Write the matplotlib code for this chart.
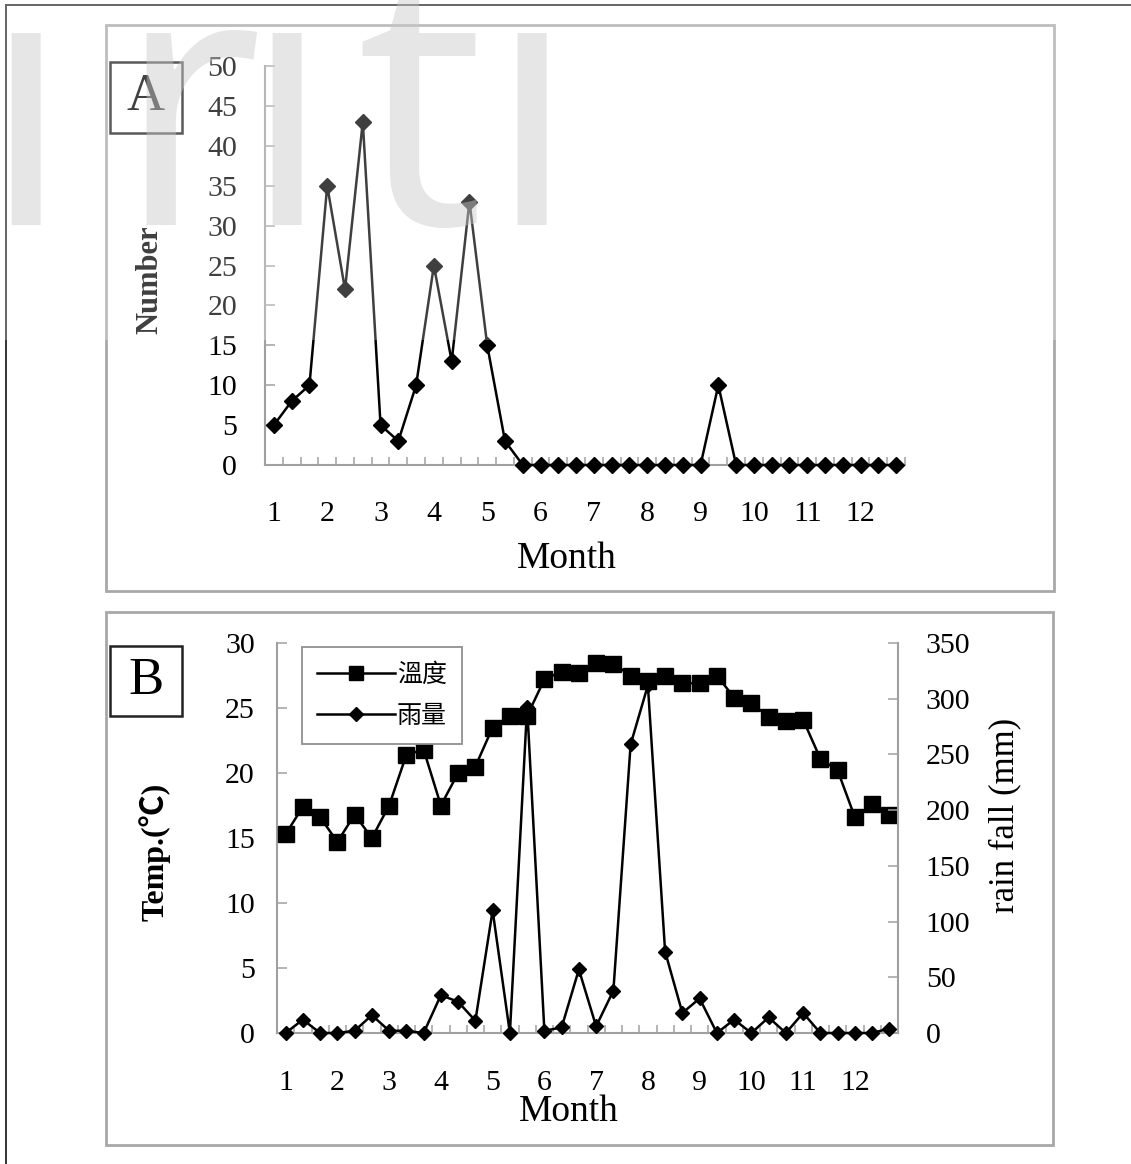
import numpy as np
import matplotlib
matplotlib.use('Agg')
import matplotlib.pyplot as plt
from matplotlib.patches import Rectangle
from matplotlib.lines import Line2D

plt.rcParams['font.family'] = ['Liberation Serif', 'Noto Sans CJK TC', 'DejaVu Sans']

# ---------------- data ----------------
month_labels = [str(m) for m in range(1, 13)]
count_A = [5, 8, 10, 35, 22, 43, 5, 3, 10, 25, 13, 33,
           15, 3, 0, 0, 0, 0, 0, 0, 0, 0, 0, 0,
           0, 10, 0, 0, 0, 0, 0, 0, 0, 0, 0, 0]
temp_B = [15.3, 17.4, 16.6, 14.7, 16.8, 15.0, 17.5, 21.4, 21.8, 17.5, 20.0, 20.5,
          23.5, 24.4, 24.4, 27.2, 27.8, 27.7, 28.5, 28.4, 27.5, 27.1, 27.5, 26.9,
          26.9, 27.5, 25.8, 25.4, 24.3, 24.0, 24.1, 21.1, 20.2, 16.6, 17.6, 16.8]
rain_B = [0, 12, 0, 0, 2, 16, 2, 2, 0, 34, 28, 11,
          110, 0, 293, 2, 5, 57, 6, 38, 259, 312, 73, 18,
          31, 0, 12, 0, 14, 0, 18, 0, 0, 0, 0, 4]
legend_labels = ['溫度', '雨量']

W, H = 1131, 1164
fig = plt.figure(figsize=(W / 100, H / 100), dpi=100)
fig.patch.set_facecolor('white')

def fx(px):
    return px / W

def fy(py):
    return 1 - py / H

SPINE = '#a0a0a0'
TICKFS = 21.5
n = len(count_A)
x = np.arange(n)
per_month = n // len(month_labels)

def style_x(ax, pad):
    ax.set_xlim(-0.5, n - 0.5)
    ax.set_xticks(x[::per_month])
    ax.set_xticklabels(month_labels)
    ax.set_xticks(np.arange(-0.5, n, 1), minor=True)
    ax.tick_params(axis='x', which='major', length=0, labelsize=TICKFS, pad=pad)
    ax.tick_params(axis='x', which='minor', direction='in', length=6,
                   color=SPINE, width=1.1)
    for s in ['top', 'right']:
        ax.spines[s].set_visible(False)
    for s in ['left', 'bottom']:
        ax.spines[s].set_color(SPINE)
        ax.spines[s].set_linewidth(1.5)

# ---------------- panel A ----------------
axA = fig.add_axes([fx(265), fy(465), fx(905) - fx(265), fy(66) - fy(465)])
axA.plot(x, count_A, color='black', lw=1.8, marker='D', ms=8.2,
         clip_on=False, zorder=3)
axA.set_ylim(0, 50)
axA.set_yticks(np.arange(0, 51, 5))
axA.tick_params(axis='y', direction='in', length=7, color=SPINE, width=1.1,
                labelsize=TICKFS, pad=20)
style_x(axA, 26)
axA.set_xlabel('Month', fontsize=27, va='center')
axA.xaxis.set_label_coords((567 - 265) / 640, (465 - 559) / 399)
axA.set_ylabel('Number', fontsize=22, fontweight='bold', va='center')
axA.yaxis.set_label_coords((150 - 265) / 640, (465 - 280) / 399)

# ---------------- panel B ----------------
axB = fig.add_axes([fx(277), fy(1033), fx(898) - fx(277), fy(643) - fy(1033)])
axB2 = axB.twinx()
lt, = axB.plot(x, temp_B, color='black', lw=1.8, marker='s', ms=11,
               clip_on=False, zorder=3)
lr, = axB2.plot(x, rain_B, color='black', lw=1.8, marker='D', ms=7.5,
                clip_on=False, zorder=3)
axB.set_ylim(0, 30)
axB.set_yticks(np.arange(0, 31, 5))
axB2.set_ylim(0, 350)
axB2.set_yticks(np.arange(0, 351, 50))
axB.tick_params(axis='y', direction='in', length=7, color=SPINE, width=1.1,
                labelsize=TICKFS, pad=16)
axB2.tick_params(axis='y', direction='in', length=7, color=SPINE, width=1.1,
                 labelsize=TICKFS, pad=20)
style_x(axB, 27)
axB2.spines['top'].set_visible(False)
axB2.spines['right'].set_color(SPINE)
axB2.spines['right'].set_linewidth(1.5)
axB2.spines['left'].set_visible(False)
axB2.spines['bottom'].set_visible(False)
axB.set_xlabel('Month', fontsize=27, va='center')
axB.xaxis.set_label_coords((569 - 277) / 621, (1033 - 1112) / 390)
axB.set_ylabel('Temp.(℃)', fontsize=23, fontweight='bold', va='center')
axB.yaxis.set_label_coords((155 - 277) / 621, (1033 - 852) / 390)
axB2.set_ylabel('rain fall (mm)', fontsize=25, va='center', rotation=90)
axB2.yaxis.set_label_coords((1005 - 277) / 621, (1033 - 815) / 390)

h_t = Line2D([], [], color='black', lw=1.8, marker='s', ms=9.5)
h_r = Line2D([], [], color='black', lw=1.8, marker='D', ms=7.5)
leg = axB2.legend([h_t, h_r], legend_labels, loc='upper left',
                  bbox_to_anchor=((302 - 277) / 621, (1033 - 647) / 390),
                  borderaxespad=0, frameon=True, fancybox=False,
                  edgecolor='#909090', framealpha=1,
                  prop={'family': ['Noto Sans CJK TC'], 'size': 18},
                  handlelength=3.1, handletextpad=0.1, borderpad=0.6,
                  labelspacing=0.6)
leg.get_frame().set_linewidth(1.3)

# ---------------- panel frames and letters ----------------
for (x0, y0, x1, y1) in [(106, 25, 1054, 591), (106, 612, 1053, 1145)]:
    fig.add_artist(Rectangle((fx(x0), fy(y1)), fx(x1) - fx(x0), fy(y0) - fy(y1),
                             transform=fig.transFigure, fill=False,
                             edgecolor='#a8a8a8', lw=2, zorder=-1))
for (x0, y0, x1, y1, lab) in [(110, 62, 182, 133, 'A'), (110, 646, 182, 716, 'B')]:
    fig.add_artist(Rectangle((fx(x0), fy(y1)), fx(x1) - fx(x0), fy(y0) - fy(y1),
                             transform=fig.transFigure, fill=False,
                             edgecolor='#222222', lw=1.8, zorder=4))
    fig.text(fx((x0 + x1) / 2), fy((y0 + y1) / 2), lab, fontsize=38,
             ha='center', va='center', zorder=4)

# page frame lines
fig.add_artist(Line2D([fx(6), 1], [fy(5), fy(5)], transform=fig.transFigure,
                      color='#333333', lw=1.4, zorder=4))
fig.add_artist(Line2D([fx(6), fx(6)], [fy(5), 0], transform=fig.transFigure,
                      color='#333333', lw=1.4, zorder=4))

# ---------------- watermark ----------------
fig.add_artist(Rectangle((0, fy(340)), 1, 340 / H, transform=fig.transFigure,
                         facecolor='white', alpha=0.25, edgecolor='none', zorder=8))
wm = dict(family=['Open Sans'], fontsize=258, color='#c8c8c8', alpha=0.45,
          va='baseline', zorder=9)
fig.text(fx(26), fy(225), 'i', ha='center', **wm)
fig.text(fx(115), fy(225), 'r', ha='left', **wm)
fig.text(fx(287), fy(225), 'i', ha='center', **wm)
fig.text(fx(356), fy(225), 't', ha='left', **wm)
fig.text(fx(532), fy(225), 'i', ha='center', **wm)

fig.savefig('out.png', dpi=100, facecolor='white')
